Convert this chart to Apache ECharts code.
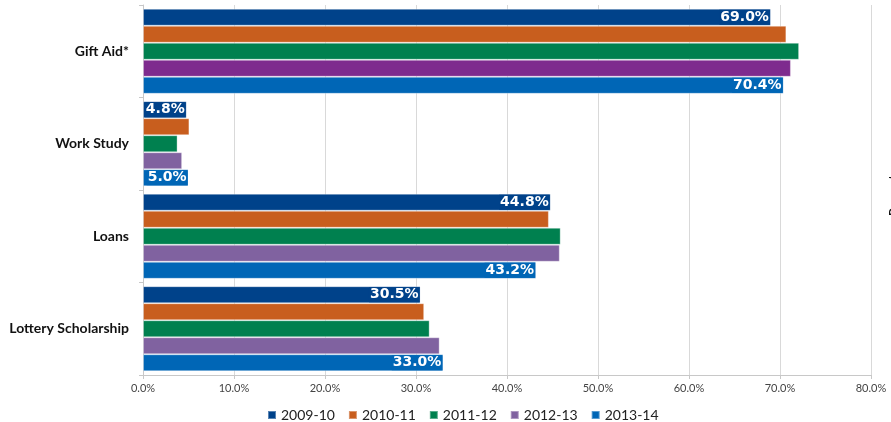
<!DOCTYPE html>
<html>
<head>
<meta charset="utf-8">
<script src="https://cdn.jsdelivr.net/npm/echarts@6/dist/echarts.min.js"></script>
<style>
  html, body { margin: 0; padding: 0; background: #fff; }
  #chart { width: 891px; height: 422px; }
</style>
</head>
<body>
<div id="chart"></div>
<script>
var categories = ["Gift Aid*", "Work Study", "Loans", "Lottery Scholarship"];
var years = ["2009-10", "2010-11", "2011-12", "2012-13", "2013-14"];
var values_2009 = [69.0, 4.8, 44.8, 30.5];
var values_2010 = [70.7, 5.1, 44.6, 30.9];
var values_2011 = [72.1, 3.8, 45.9, 31.5];
var values_2012 = [71.2, 4.3, 45.8, 32.6];
var values_2013 = [70.4, 5.0, 43.2, 33.0];
var tick_labels = ["0.0%", "10.0%", "20.0%", "30.0%", "40.0%", "50.0%", "60.0%", "70.0%", "80.0%"];

var colors = ["#00428a", "#c85e1e", "#00804f", "#8062a0", "#0066b6"];
var all_values = [values_2009, values_2010, values_2011, values_2012, values_2013];
// only the first and last year carry labels
var labelled = [true, false, false, false, true];

function makeSeries(i) {
  var data = all_values[i].map(function (v, j) {
    // gift aid purple bar is a darker shade in the original
    if (i === 3 && j === 0) {
      return { value: v, itemStyle: { color: "#7e2b8e" } };
    }
    return v;
  });
  return {
    name: years[i],
    type: "bar",
    data: data,
    barGap: "0%",
    barCategoryGap: "8%",
    itemStyle: {
      color: colors[i],
      borderColor: "rgba(255,255,255,0.35)",
      borderWidth: 1,
    },
    label: {
      show: labelled[i],
      position: "insideRight",
      distance: 1,
      color: "#fff",
      backgroundColor: colors[i],
      padding: [1, 1, 0, 1],
      fontFamily: "DejaVu Sans",
      fontWeight: "bold",
      fontSize: 14,
      formatter: function (p) {
        return p.value.toFixed(1) + "%";
      },
    },
  };
}

var chart = echarts.init(document.getElementById("chart"), null, { renderer: "canvas" });

var option = {
  animation: false,
  grid: { left: 143, right: 20, top: 5, bottom: 47 },
  legend: {
    data: years,
    left: 262,
    top: 403,
    itemWidth: 8,
    itemHeight: 8,
    itemGap: 13,
    icon: "rect",
    textStyle: { fontFamily: "Lato", fontSize: 14, color: "#222" },
  },
  xAxis: {
    type: "value",
    min: 0,
    max: 80,
    interval: 10,
    axisLine: { show: true, lineStyle: { color: "#c8c8c8" } },
    axisTick: { show: true, length: 4, lineStyle: { color: "#c8c8c8" } },
    splitLine: { show: true, lineStyle: { color: "#d9d9d9" } },
    axisLabel: {
      fontFamily: "Lato",
      fontSize: 11,
      color: "#444",
      margin: 8,
      formatter: function (v) {
        return tick_labels[Math.round(v / 10)];
      },
    },
  },
  yAxis: {
    type: "category",
    data: categories,
    inverse: true,
    axisLine: { show: true, lineStyle: { color: "#c8c8c8" } },
    axisTick: { show: true, length: 4, lineStyle: { color: "#c8c8c8" } },
    axisLabel: {
      fontFamily: "Lato",
      fontWeight: "bold",
      fontSize: 14,
      color: "#111",
      margin: 14,
    },
  },
  series: [0, 1, 2, 3, 4].map(makeSeries),
  graphic: [
    {
      type: "text",
      x: 887,
      y: 216,
      rotation: Math.PI / 2,
      style: {
        text: "Percentage",
        fill: "#111",
        font: "bold 12px Lato",
        verticalAlign: "top",
      },
    },
  ],
};

chart.setOption(option);
</script>
</body>
</html>
